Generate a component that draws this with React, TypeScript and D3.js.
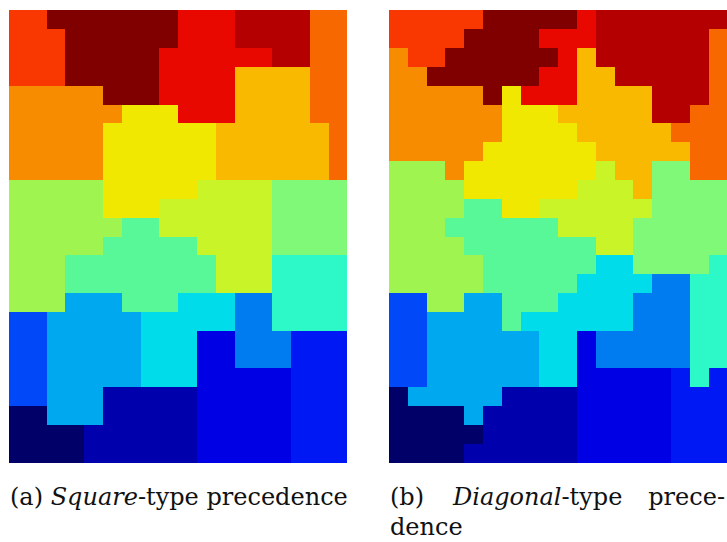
import React from 'react';
import * as d3 from 'd3';

// Region keys and their colours (jet-like colormap)
const regionKeys = ['A','B','C','D','E','F','G','H','I','J','K','L','M','N','O','P','Q','R','S','T','U'];
const regionColors = [
  '#f83800', '#800000', '#e80800', '#b40000', '#f86800', '#f88c00', '#f8b900',
  '#f0e800', '#a0f450', '#c8f428', '#80f878', '#58f898', '#2cf8c8', '#00a8f0',
  '#00dcea', '#007cf0', '#0048f8', '#0018f4', '#0000e4', '#0000ac', '#000068'
];

// (a) Square-type precedence: 24 rows x 18 columns
const gridSquare = [
  'AABBBBBBBCCCDDDDEE',
  'AAABBBBBBCCCDDDDEE',
  'AAABBBBBCCCCCCDDEE',
  'AAABBBBBCCCCGGGGEE',
  'FFFFFBBBCCCCGGGGEE',
  'FFFFFFHHHCCCGGGGEE',
  'FFFFFHHHHHHGGGGGGE',
  'FFFFFHHHHHHGGGGGGE',
  'FFFFFHHHHHHGGGGGGE',
  'IIIIIHHHHHJJJJKKKK',
  'IIIIIHHHJJJJJJKKKK',
  'IIIIIILLJJJJJJKKKK',
  'IIIIILLLLLJJJJKKKK',
  'IIILLLLLLLLJJJMMMM',
  'IIILLLLLLLLJJJMMMM',
  'IIINNNLLLOOOPPMMMM',
  'QQNNNNNOOOOOPPMMMM',
  'QQNNNNNOOOSSPPPRRR',
  'QQNNNNNOOOSSPPPRRR',
  'QQNNNNNOOOSSSSSRRR',
  'QQNNNTTTTTSSSSSRRR',
  'UUNNNTTTTTSSSSSRRR',
  'UUUUTTTTTTSSSSSRRR',
  'UUUUTTTTTTSSSSSRRR'
];

// (b) Diagonal-type precedence: 24 rows x 18 columns
const gridDiagonal = [
  'AAAAABBBBBCDDDDDDD',
  'AAAABBBBCCCDDDDDDE',
  'FAABBBBBBCGDDDDDDE',
  'FFBBBBBBCCGGDDDDDE',
  'FFFFFBHCCCGGGGDDDE',
  'FFFFFFHHHGGGGGDDEE',
  'FFFFFFHHHHGGGGGEEE',
  'FFFFFHHHHHHGGGGGEE',
  'IIIFHHHHHHHJGGKKEE',
  'IIIIHHHHHHJJJGKKKK',
  'IIIILLHHJJJJJJKKKK',
  'IIILLLLLLJJJJKKKKK',
  'IIIILLLLLLLJJKKKKK',
  'IIIIILLLLLLOOKKKKM',
  'IIIIILLLLLOOOOPPMM',
  'QQIINNLLLOOOOPPPMM',
  'QQNNNNLOOOOOOPPPMM',
  'QQNNNNNNOOSPPPPPMM',
  'QQNNNNNNOOSPPPPPMM',
  'QQNNNNNNOOSSSSSRMR',
  'UNNNNNTTTTSSSSSRRR',
  'UUUUNTTTTTSSSSSRRR',
  'UUUUUTTTTTSSSSSRRR',
  'UUUUTTTTTTSSSSSRRR'
];

const panelLefts = [9, 389];
const PANEL_W = 338.4;
const PANEL_TOP = 10.3;
const PANEL_BOTTOM = 462.7;

const color = d3.scaleOrdinal<string, string>().domain(regionKeys).range(regionColors);

function Panel({ grid, x0 }: { grid: string[]; x0: number }) {
  const nCols = grid[0].length;
  const nRows = grid.length;
  const x = d3.scaleBand<number>().domain(d3.range(nCols)).range([x0, x0 + PANEL_W]);
  const y = d3.scaleBand<number>().domain(d3.range(nRows)).range([PANEL_TOP, PANEL_BOTTOM]);
  const cells: any[] = [];
  grid.forEach((row, r) => {
    row.split('').forEach((k, c) => {
      cells.push(
        <rect
          key={`${r}-${c}`}
          x={x(c)}
          y={y(r)}
          width={x.bandwidth()}
          height={y.bandwidth()}
          fill={color(k)}
        />
      );
    });
  });
  return <g shapeRendering="crispEdges">{cells}</g>;
}

export default function App() {
  const font = "'DejaVu Serif', 'Liberation Serif', serif";
  const fs = 24;
  return (
    <svg
      width={727}
      height={542}
      style={{ position: 'absolute', left: 0, top: 0, background: '#fff' }}
    >
      <Panel grid={gridSquare} x0={panelLefts[0]} />
      <Panel grid={gridDiagonal} x0={panelLefts[1]} />

      <g style={{ fontFamily: font, fontSize: fs }} fill="#111">
        <text x={10} y={505}>
          (a) <tspan fontStyle="italic">Square</tspan>-type precedence
        </text>

        <text x={390} y={505}>(b)</text>
        <text x={453} y={505}>
          <tspan fontStyle="italic">Diagonal</tspan>-type
        </text>
        <text x={725} y={505} textAnchor="end">prece-</text>
        <text x={390} y={535}>dence</text>
      </g>
    </svg>
  );
}
